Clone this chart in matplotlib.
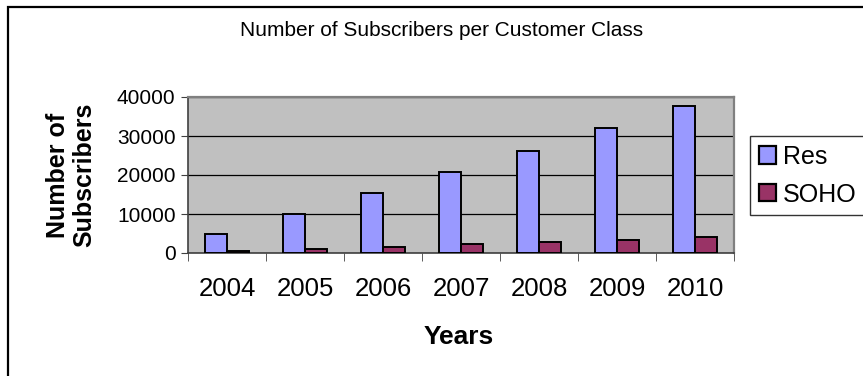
import matplotlib
matplotlib.use("Agg")
import matplotlib.pyplot as plt
import numpy as np
from matplotlib.patches import Rectangle, Patch

years = ["2004", "2005", "2006", "2007", "2008", "2009", "2010"]
res = [5000, 10000, 15300, 20800, 26200, 32000, 37700]
soho = [500, 1000, 1600, 2200, 2900, 3400, 4200]

W, H = 863, 376
plt.rcParams["font.family"] = ["Liberation Sans", "DejaVu Sans"]

fig = plt.figure(figsize=(W / 100, H / 100), dpi=100)

# outer chart border (right/bottom run off the image)
fig.patches.append(Rectangle((8 / W, -0.05), 1.1, 1 - 7 / H + 0.05, transform=fig.transFigure,
                             fill=False, ec="black", lw=1.6))

ax = fig.add_axes([188 / W, 1 - 253 / H, (734 - 188) / W, (253 - 97) / H])
ax.set_facecolor("#C0C0C0")
x = np.arange(len(years))
bw = 0.28
ax.bar(x - bw / 2, res, bw, color="#9999FF", edgecolor="black", lw=1.4, zorder=3)
ax.bar(x + bw / 2, soho, bw, color="#993366", edgecolor="black", lw=1.4, zorder=3)

ax.set_xlim(-0.5, len(years) - 0.5)
ax.set_ylim(0, 40000)
ax.set_yticks([0, 10000, 20000, 30000, 40000])
ax.yaxis.grid(True, color="black", lw=0.9, zorder=1)
ax.set_axisbelow(True)
ax.set_xticks(x)
ax.set_xticklabels(years, fontsize=18.5)
ax.set_xticks(np.arange(len(years) + 1) - 0.5, minor=True)
ax.tick_params(axis="x", which="major", length=0, pad=17)
ax.tick_params(axis="x", which="minor", length=6, direction="out", color="#404040")
ax.tick_params(axis="y", labelsize=15, length=5, direction="out", pad=4, color="#404040")
for s in ["top", "right"]:
    ax.spines[s].set_color("#808080")
    ax.spines[s].set_linewidth(1.6)
for s in ["left", "bottom"]:
    ax.spines[s].set_color("#404040")
    ax.spines[s].set_linewidth(1.2)

fig.text(459 / W, 1 - 337 / H, "Years", fontsize=19, fontweight="bold",
         ha="center", va="center")
fig.text(71 / W, 1 - 175 / H, "Number of\nSubscribers", fontsize=18, fontweight="bold",
         rotation=90, ha="center", va="center", multialignment="center", linespacing=1.12)

fig.text(442 / W, 1 - 30 / H, "Number of Subscribers per Customer Class", fontsize=15,
         ha="center", va="center")

handles = [Patch(fc="#9999FF", ec="black", lw=1.6, label="Res"),
           Patch(fc="#993366", ec="black", lw=1.6, label="SOHO")]
leg = fig.legend(handles=handles, loc="upper left", bbox_to_anchor=(750 / W, 1 - 136 / H),
                 fontsize=18, frameon=True, fancybox=False, edgecolor="black",
                 handlelength=0.68, handleheight=0.68, handletextpad=0.28, labelspacing=0.55,
                 borderpad=0.35, borderaxespad=0)
leg.get_frame().set_linewidth(1.0)

fig.savefig("out.png", dpi=100)
